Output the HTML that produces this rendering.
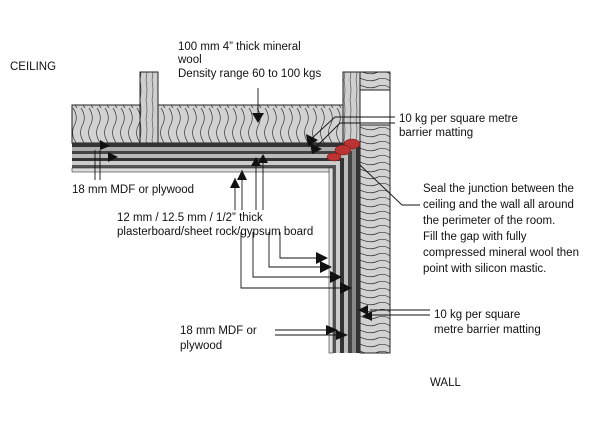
<!DOCTYPE html>
<html><head><style>body{margin:0;background:#fff}svg{display:block}text{font-family:"Liberation Sans",sans-serif;font-size:11.5px;fill:#111}</style></head><body>
<svg width="600" height="421" viewBox="0 0 600 421" xmlns="http://www.w3.org/2000/svg">
<defs>
<pattern id="wv" width="8" height="36" patternUnits="userSpaceOnUse">
<rect width="8" height="36" fill="#d2d2d2"/>
<path d="M1 0 Q7 9 2 18 Q-2 27 5 36" stroke="#333" stroke-width="0.7" fill="none"/>
</pattern>
<pattern id="wh" width="30" height="7" patternUnits="userSpaceOnUse">
<rect width="30" height="7" fill="#d2d2d2"/>
<path d="M0 1 Q10 6 18 2 Q25 0 30 4" stroke="#333" stroke-width="0.7" fill="none"/>
</pattern>
<pattern id="wood" width="6" height="20" patternUnits="userSpaceOnUse">
<rect width="6" height="20" fill="#cfcfcf"/>
<path d="M2 0 Q4 10 2 20" stroke="#444" stroke-width="0.6" fill="none"/>
</pattern>
</defs>
<!-- ceiling insulation -->
<rect x="72" y="105" width="272" height="38" fill="url(#wv)" stroke="#222"/>
<rect x="140" y="72" width="18" height="71" fill="url(#wood)" stroke="#222"/>
<!-- wall stud and top -->
<rect x="343" y="72" width="17" height="75" fill="url(#wood)" stroke="#222"/>
<rect x="360" y="72" width="30" height="18" fill="url(#wh)" stroke="#222"/>
<rect x="360" y="90" width="30" height="35" fill="#fff" stroke="#222"/>
<rect x="360" y="125" width="30" height="228" fill="url(#wh)" stroke="#222"/>
<!-- ceiling layers -->
<g>
<rect x="72" y="143" width="288" height="4" fill="#333"/>
<rect x="72" y="147" width="284" height="4" fill="#aaa"/>
<rect x="72" y="151" width="280" height="3" fill="#444"/>
<rect x="72" y="154" width="276" height="4" fill="#bbb"/>
<rect x="72" y="158" width="272" height="3" fill="#333"/>
<rect x="72" y="161" width="268" height="4" fill="#ccc"/>
<rect x="72" y="165" width="264" height="3" fill="#555"/>
<rect x="72" y="168" width="262" height="4" fill="#ddd" stroke="#333" stroke-width="0.6"/>
</g>
<g>
<rect x="356" y="143" width="4" height="210" fill="#333"/>
<rect x="352" y="147" width="4" height="206" fill="#888"/>
<rect x="348" y="151" width="4" height="202" fill="#444"/>
<rect x="344" y="154" width="4" height="199" fill="#bbb"/>
<rect x="340" y="158" width="4" height="195" fill="#333"/>
<rect x="336" y="161" width="4" height="192" fill="#ccc"/>
<rect x="333" y="165" width="3" height="188" fill="#555"/>
<rect x="329" y="168" width="4" height="185" fill="#ddd" stroke="#333" stroke-width="0.6"/>
</g>
<!-- red mastic -->
<g fill="#b33" stroke="#611" stroke-width="0.5">
<ellipse cx="352" cy="144" rx="8" ry="5"/><ellipse cx="343" cy="150" rx="8" ry="5"/><ellipse cx="334" cy="157" rx="7" ry="4"/>
</g>
<!-- leader lines -->
<g stroke="#111" stroke-width="0.9" fill="none">
<line x1="258" y1="88" x2="258" y2="115"/>
<polyline points="395,117 335,117 310,140"/>
<polyline points="395,123 340,123 315,148"/>
<line x1="95" y1="150" x2="95" y2="180"/><line x1="100" y1="150" x2="100" y2="180"/>
<line x1="235" y1="178" x2="235" y2="210"/><line x1="242" y1="170" x2="242" y2="210"/>
<line x1="256" y1="165" x2="256" y2="210"/><line x1="263" y1="162" x2="263" y2="210"/>
<polyline points="280,232 280,258 320,258"/>
<polyline points="269,232 269,267 325,267"/>
<polyline points="253,232 253,277 335,277"/>
<polyline points="241,232 241,288 345,288"/>
<polyline points="430,310 370,310"/><polyline points="430,315 365,315"/>
<line x1="275" y1="330" x2="330" y2="330"/><line x1="275" y1="335" x2="340" y2="335"/>
<polyline points="420,205 402,205 360,165"/>
</g>
<g fill="#111">
<polygon points="252,113 264,113 258,123"/>
<polygon points="306,134 318,140 308,146"/><polygon points="310,143 322,149 312,154"/>
<polygon points="100,140 110,146 100,150"/><polygon points="108,152 118,157 108,162"/>
<polygon points="230,188 240,188 235,178"/><polygon points="237,180 247,180 242,170"/>
<polygon points="251,166 261,166 256,157"/><polygon points="258,163 268,163 263,154"/>
<polygon points="316,252 328,258 316,264"/><polygon points="320,261 332,267 320,273"/>
<polygon points="330,271 342,277 330,283"/><polygon points="340,282 352,288 340,294"/>
<polygon points="368,305 358,310 368,315"/><polygon points="372,311 362,316 372,321"/>
<polygon points="326,325 338,330 326,335"/><polygon points="336,330 348,335 336,340"/>
</g>
<text x="10" y="70">CEILING</text>
<text x="178" y="50">100 mm 4” thick mineral</text>
<text x="178" y="63">wool</text>
<text x="178" y="77">Density range 60 to 100 kgs</text>
<text x="399" y="122">10 kg per square metre</text>
<text x="399" y="136">barrier matting</text>
<text x="72" y="193">18 mm MDF or plywood</text>
<text x="117" y="221">12 mm / 12.5 mm  / 1/2” thick</text>
<text x="117" y="235">plasterboard/sheet rock/gypsum board</text>
<text x="423" y="192">Seal the junction between the</text>
<text x="423" y="208">ceiling and the wall all around</text>
<text x="423" y="224">the perimeter of the room.</text>
<text x="423" y="240">Fill the gap with fully</text>
<text x="423" y="256">compressed mineral wool then</text>
<text x="423" y="272">point with silicon mastic.</text>
<text x="434" y="318">10 kg per square</text>
<text x="434" y="333">metre barrier matting</text>
<text x="180" y="334">18 mm MDF or</text>
<text x="180" y="349">plywood</text>
<text x="430" y="386">WALL</text>
</svg>
</body></html>
